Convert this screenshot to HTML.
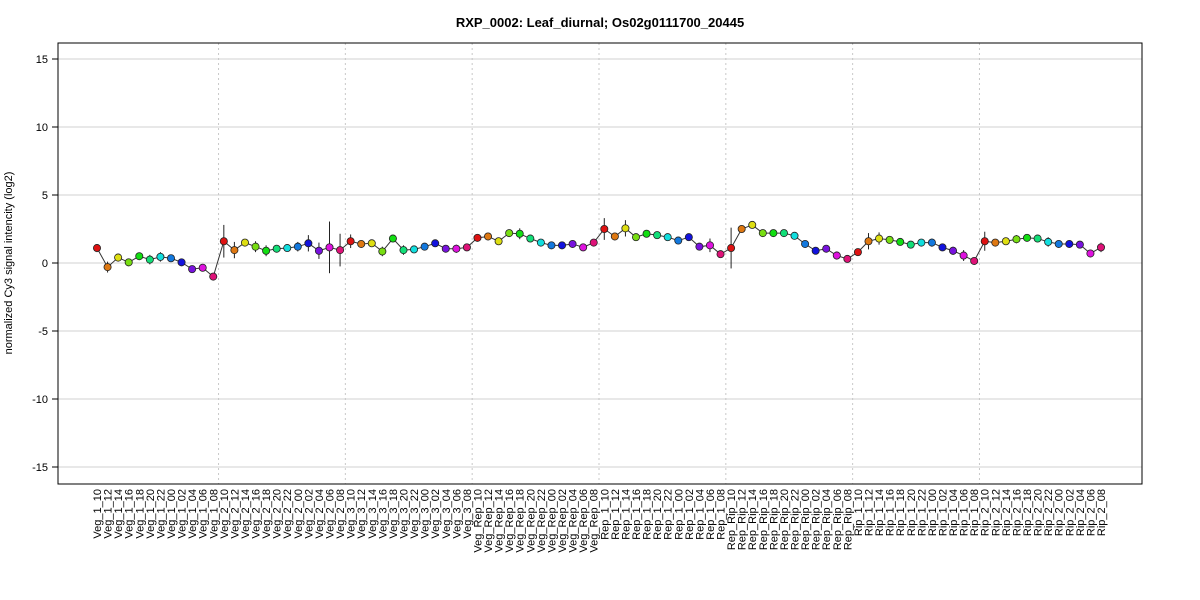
<!DOCTYPE html>
<html><head><meta charset="utf-8"><style>body{margin:0;background:#fff}svg{display:block;font-family:"Liberation Sans",Arial,sans-serif}</style></head>
<body>
<svg id="chart" width="1200" height="600" xmlns="http://www.w3.org/2000/svg"></svg>
<script>
const groups = ["Veg_1","Veg_2","Veg_3","Veg_Rep","Rep_1","Rep_Rip","Rip_1","Rip_2"];
const hours = ["10","12","14","16","18","20","22","00","02","04","06","08"];
const values = [
 1.1,-0.3,0.4,0.05,0.5,0.25,0.45,0.35,0.05,-0.45,-0.35,-1.0,
 1.6,0.95,1.5,1.2,0.9,1.05,1.1,1.2,1.45,0.9,1.15,0.95,
 1.6,1.4,1.45,0.85,1.8,0.95,1.0,1.2,1.45,1.05,1.05,1.15,
 1.85,1.95,1.6,2.2,2.15,1.8,1.5,1.3,1.3,1.4,1.15,1.5,
 2.5,1.95,2.55,1.9,2.15,2.05,1.9,1.65,1.9,1.2,1.3,0.65,
 1.1,2.5,2.8,2.2,2.2,2.2,2.0,1.4,0.9,1.05,0.55,0.3,
 0.8,1.6,1.8,1.7,1.55,1.35,1.5,1.5,1.15,0.9,0.55,0.15,
 1.6,1.5,1.6,1.75,1.85,1.8,1.55,1.4,1.4,1.35,0.7,1.15];
const errors = [
 0.3,0.4,0.3,0.15,0.15,0.35,0.35,0.25,0.15,0.1,0.1,0.15,
 1.2,0.6,0.2,0.4,0.4,0.15,0.15,0.35,0.6,0.6,1.9,1.2,
 0.5,0.15,0.15,0.35,0.2,0.35,0.15,0.15,0.15,0.15,0.3,0.2,
 0.15,0.2,0.15,0.15,0.4,0.25,0.15,0.15,0.15,0.15,0.15,0.15,
 0.8,0.2,0.6,0.15,0.2,0.15,0.15,0.25,0.15,0.25,0.5,0.2,
 1.5,0.2,0.2,0.15,0.15,0.15,0.15,0.15,0.15,0.15,0.3,0.2,
 0.25,0.6,0.45,0.2,0.15,0.15,0.15,0.3,0.15,0.3,0.4,0.15,
 0.7,0.2,0.2,0.3,0.15,0.15,0.35,0.15,0.15,0.15,0.15,0.35];
const yTicks = [-15,-10,-5,0,5,10,15];

const svg = document.getElementById('chart');
const NS = "http://www.w3.org/2000/svg";
const L=58,R=1142,T=43,B=484;
const n = groups.length*hours.length;
const xS = i => 97 + i*(1101-97)/(n-1);
const yS = v => 263 - v*(263-59)/15;
function mk(tag, attrs, parent){const e=document.createElementNS(NS,tag);for(const k in attrs)e.setAttribute(k,attrs[k]);(parent||svg).appendChild(e);return e;}

let t = mk('text',{x:600,y:27,'text-anchor':'middle','font-size':13,'font-weight':'bold'});


t.textContent='RXP_0002: Leaf_diurnal; Os02g0111700_20445';

yTicks.forEach(v=>{
  const g=mk('line',{x1:L,x2:R,y1:yS(v),y2:yS(v),stroke:'#d0d0d0','stroke-width':1});
  
  
  const tk=mk('line',{x1:L-6,x2:L,y1:yS(v),y2:yS(v),stroke:'#000'});
  
  
  const lb=mk('text',{x:L-10,y:yS(v)+4,'text-anchor':'end','font-size':11});
  
  
  lb.textContent=v;
});
for(let gi=1;gi<groups.length;gi++){
  const x=(xS(gi*12-1)+xS(gi*12))/2;
  const s=mk('line',{x1:x,x2:x,y1:T,y2:B,stroke:'#c8c8c8','stroke-dasharray':'2,3'});
  
  
}
const frame=mk('rect',{x:L,y:T,width:R-L,height:B-T,fill:'none',stroke:'#000'});


const yl=mk('text',{x:0,y:0,transform:'translate(12,263) rotate(-90)','text-anchor':'middle','font-size':11});


yl.textContent='normalized Cy3 signal intencity (log2)';

const pts=values.map((v,i)=>xS(i)+','+yS(v)).join(' ');
const line=mk('polyline',{points:pts,fill:'none',stroke:'#333','stroke-width':1});



values.forEach((v,i)=>{
  const x=xS(i);
  const eb=mk('line',{x1:x,x2:x,y1:yS(v+errors[i]),y2:yS(v-errors[i]),stroke:'#222','stroke-width':1});
  
  
  const c=mk('circle',{cx:x,cy:yS(v),r:3.6,fill:`hsl(${(i%12)*30},85%,47%)`,stroke:'#222','stroke-width':0.8});
  
  
  const lbl=groups[Math.floor(i/12)]+'_'+hours[i%12];
  const tx=mk('text',{x:0,y:0,transform:`translate(${x+4},489) rotate(-90)`,'text-anchor':'end','font-size':11});
  
  
  tx.textContent=lbl;
});
</script>
</body></html>
